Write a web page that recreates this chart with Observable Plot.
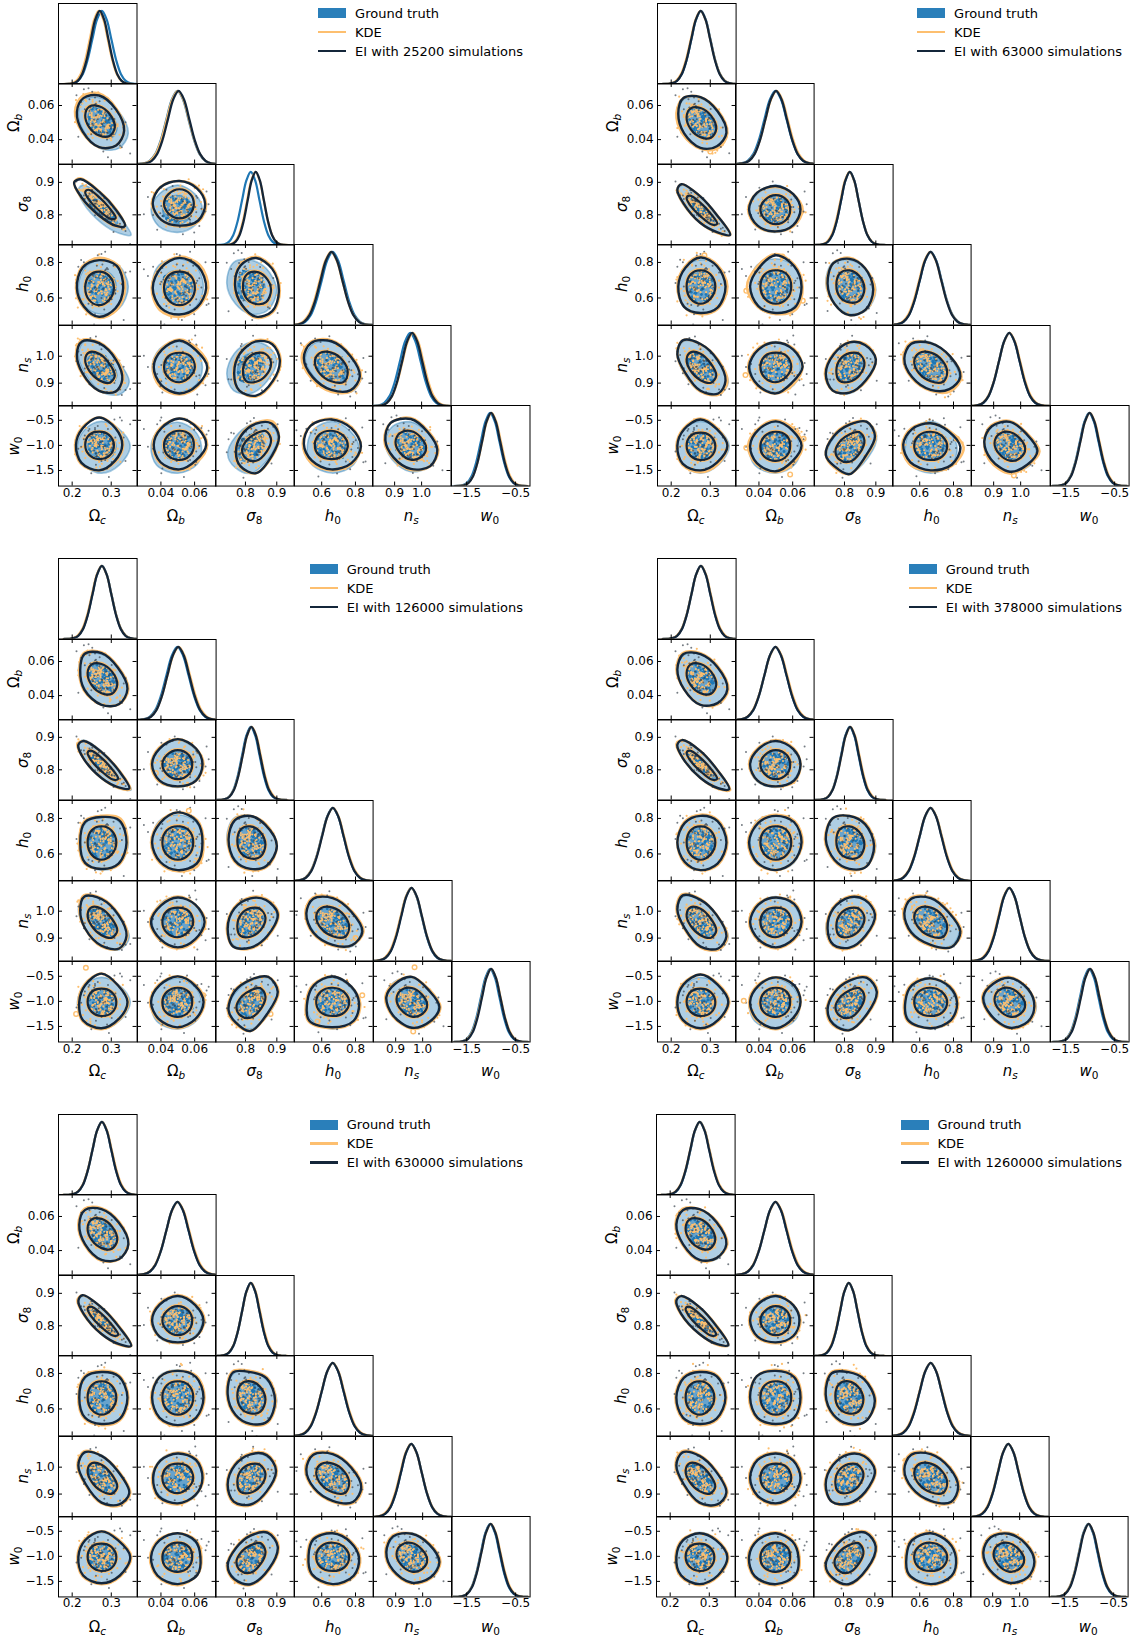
<!DOCTYPE html>
<html><head><meta charset="utf-8">
<script src="https://cdn.jsdelivr.net/npm/d3@7"></script>
<script src="https://cdn.jsdelivr.net/npm/@observablehq/plot@0.6"></script>
<style>
html,body{margin:0;padding:0;background:#fff}
#page{position:relative;width:1136px;height:1640px;overflow:hidden;font-family:"DejaVu Sans",sans-serif;color:#000}
.lab{position:absolute;font-size:15px;white-space:nowrap;line-height:1}
.lab sub{font-size:10.5px;vertical-align:-3px;line-height:0}
.leg{position:absolute;display:grid;grid-template-columns:28px auto;column-gap:9px;grid-auto-rows:19px;align-items:center;font-size:13px;white-space:nowrap}
</style></head><body><div id="page"></div>
<script>
// ---------- chart values ----------
const simulations=[25200,63000,126000,378000,630000,1260000];
const limsX=[[.165,.366],[.0261,.0727],[.7044,.955],[.439,.904],[.818,1.109],[-1.81,-.205]];
const limsY=[[.165,.366],[.0257,.0729],[.707,.955],[.448,.901],[.815,1.114],[-1.81,-.205]];
const ticksX=[[.2,.3],[.04,.06],[.8,.9],[.6,.8],[.9,1],[-1.5,-.5]];
const ticksY=[[.2,.3],[.04,.06],[.8,.9],[.6,.8],[.9,1],[-1.5,-1,-.5]];
const tickDigits=[1,2,1,1,1,1];
// marginal density profile read at z = -4 ... 4 in steps of 0.5
const profile=[0,.002,.011,.044,.135,.325,.607,.882,1,.882,.607,.325,.135,.044,.011,.002,0];
const profileZ=[-4,-3.5,-3,-2.5,-2,-1.5,-1,-.5,0,.5,1,1.5,2,2.5,3,3.5,4];
const truthMean=[.276,.0498,.817,.665,.958,-1.02];
const truthWidth=[.0245,.0066,.028,.065,.0385,.19];
const eiMean=[[.2705,.0505,.833,.658,.965,-1],[.2755,.0502,.817,.664,.958,-1.01],[.276,.0503,.819,.666,.959,-1],[.276,.0498,.818,.664,.958,-1],[.276,.0498,.817,.665,.958,-1.01],[.2755,.0498,.817,.665,.958,-1.01]];
const eiWidth=[[.0225,.0064,.026,.065,.0375,.185],[.0243,.0064,.028,.064,.0385,.19],[.0242,.0065,.028,.064,.0385,.188],[.0243,.0066,.028,.065,.0385,.19],[.0244,.0066,.028,.065,.0385,.19],[.0245,.0066,.028,.065,.0385,.19]];
const kdeMean=[[.268,.05,.832,.655,.968,-.99],[.275,.0505,.816,.662,.959,-1.005],[.2755,.0506,.82,.667,.958,-1],[.2765,.05,.819,.665,.957,-.998],[.2765,.05,.818,.666,.957,-1.005],[.276,.05,.817,.665,.958,-1.01]];
// contour rings, radii in tenths of a width, read every 45 degrees
const ringMean=[[.269,.051,.834,.657,.96,-.99],[.275,.05,.816,.665,.96,-1.01],[.275,.05,.816,.665,.96,-1.01],[.275,.05,.816,.665,.96,-1.01],[.275,.05,.816,.665,.96,-1.01],[.275,.05,.816,.665,.96,-1.01]];
const truthRingMean=[.275,.05,.816,.665,.96,-1.01];
const ringWidth=[.0237,.0061,.028,.065,.0378,.188];
const pairs=[[0,1],[0,2],[1,2],[0,3],[1,3],[2,3],[0,4],[1,4],[2,4],[3,4],[0,5],[1,5],[2,5],[3,5],[4,5]];
const pairRho=[-.35,-.87,0,0,0,-.1,-.5,0,.25,-.35,0,0,.35,-.05,-.2];
const truthOuter=[[29,26,25,25,25,25,27,27],[32,27,30,28,25,28,30,27],[24,24,27,25,26,26,25,24],[29,26,23,24,25,25,24,27],[25,25,24,26,25,25,24,25],[30,25,23,27,27,24,24,27],[30,25,26,26,25,25,28,28],[24,24,25,25,25,25,25,25],[30,25,25,26,27,27,27,27],[26,24,26,25,25,24,25,26],[31,26,26,25,26,28,29,28],[23,23,25,25,26,29,29,27],[31,28,24,24,26,25,31,30],[24,23,26,24,23,28,29,27],[26,24,26,25,25,26,28,26]];
const ringInner=[[17,16,15,15,15,15,15,16],[18,15,15,16,15,15,15,17],[14,15,16,15,15,15,16,15],[16,15,14,15,15,15,15,15],[15,15,14,15,15,15,15,15],[17,15,14,15,15,15,14,16],[17,15,15,15,15,15,15,16],[15,15,14,15,15,15,15,14],[17,15,14,15,15,16,15,16],[15,15,15,15,15,15,15,16],[16,15,14,15,15,15,15,16],[14,15,15,15,15,16,16,15],[17,16,13,14,16,16,18,17],[15,15,15,15,15,16,15,15],[15,14,15,15,15,15,16,15]];
const eiOuter1=[[27,26,26,24,24,25,27,26],[28,26,27,28,27,27,26,25],[25,24,25,26,26,25,24,26],[26,27,24,25,24,23,25,25],[26,26,26,25,26,25,23,24],[26,26,26,25,24,23,25,26],[25,26,27,26,24,25,27,25],[27,23,26,24,25,25,26,25],[27,26,26,26,25,27,29,27],[26,25,27,26,25,24,24,25],[25,25,29,25,25,27,27,24],[26,25,28,25,25,26,26,23],[26,25,24,24,23,25,32,26],[27,26,27,27,25,25,26,26],[26,24,28,28,25,24,26,27]];
const eiOuter2=[[28,26,26,26,24,25,26,25],[32,26,29,29,25,26,30,26],[24,24,26,26,26,25,24,24],[27,25,25,23,24,25,23,26],[25,25,27,23,25,24,23,26],[27,25,24,26,25,24,25,26],[27,26,26,27,25,23,27,27],[26,24,24,24,26,25,26,22],[30,25,25,25,27,27,26,26],[27,25,25,25,24,24,24,24],[29,25,28,25,25,27,26,25],[25,23,26,24,25,26,27,23],[29,28,24,25,27,24,32,26],[27,23,24,24,25,26,26,27],[27,23,26,25,25,26,28,24]];
const eiOuter3=[[28,25,26,26,23,26,27,27],[30,27,28,27,25,28,30,26],[24,25,28,25,25,25,24,25],[27,27,22,25,23,25,23,26],[24,26,26,24,25,24,24,26],[30,24,23,25,25,25,23,26],[27,26,26,26,23,25,27,27],[26,24,24,23,26,24,25,24],[31,25,24,26,26,28,26,27],[27,24,25,25,24,25,24,25],[28,25,30,25,24,28,28,26],[25,24,27,25,26,26,27,25],[31,29,25,26,25,24,33,28],[24,24,27,24,23,30,27,27],[27,23,27,23,25,26,28,25]];
const eiOuter4=[[29,26,25,26,25,25,27,26],[31,27,30,28,25,27,30,27],[24,24,26,24,25,25,24,25],[28,26,23,24,25,24,24,26],[25,25,23,24,26,25,24,24],[28,25,23,27,27,24,23,27],[28,25,25,27,25,24,28,27],[25,25,24,24,25,24,25,24],[29,25,25,26,25,26,26,26],[27,23,25,25,24,25,24,27],[30,26,29,26,25,27,28,27],[24,25,26,24,25,26,28,24],[31,28,24,24,25,26,32,29],[24,24,25,24,23,29,28,26],[24,25,26,23,26,26,28,25]];
const eiOuter5=[[29,26,25,25,24,25,27,27],[32,27,29,29,25,27,30,27],[25,24,27,25,25,25,24,25],[28,26,22,25,24,25,23,27],[25,25,23,25,25,25,24,25],[28,26,22,28,26,24,23,27],[30,25,25,26,25,24,28,27],[24,25,24,24,24,26,25,24],[29,26,24,25,26,27,27,26],[26,24,25,25,24,24,24,26],[31,25,27,25,25,28,28,28],[22,24,25,25,26,28,29,27],[31,28,24,23,26,26,31,30],[24,23,25,25,22,27,29,27],[27,24,25,26,25,26,28,26]];
const eiOuter6=[[29,26,25,25,25,25,27,26],[31,27,30,28,25,28,30,27],[23,24,27,25,25,25,24,24],[28,26,22,24,25,25,23,26],[24,25,23,26,25,25,23,25],[30,25,22,27,26,24,23,27],[29,25,25,26,25,24,28,27],[24,24,24,25,25,25,25,24],[30,25,24,25,26,27,26,27],[25,24,25,25,24,24,24,26],[30,25,25,25,25,28,29,28],[22,23,25,25,26,29,29,27],[31,28,24,23,26,25,31,30],[23,23,25,24,22,28,29,27],[25,24,25,25,25,26,28,26]];
const eiOuter=[eiOuter1,eiOuter2,eiOuter3,eiOuter4,eiOuter5,eiOuter6];
// KDE ring minus EI ring
const kdeDiff1=[[0,1,2,2,2,1,0,0],[0,1,1,1,0,1,1,1],[1,1,0,0,1,0,1,1],[2,1,2,1,1,1,1,2],[2,2,1,1,1,2,2,1],[1,1,1,1,1,1,1,1],[1,2,1,1,1,1,0,0],[1,2,1,1,1,2,1,1],[1,1,1,1,1,0,1,1],[1,1,1,1,2,2,2,1],[1,1,0,1,1,1,0,1],[1,1,0,1,1,1,1,2],[0,2,1,1,1,1,0,1],[0,1,1,0,1,2,1,1],[1,1,1,0,1,1,1,0]];
const kdeDiff2=[[1,1,0,0,2,2,1,2],[0,0,0,0,0,1,0,1],[2,0,-1,0,1,1,0,1],[2,1,1,1,1,0,1,1],[1,1,1,2,3,1,1,2],[2,0,1,0,1,0,0,0],[2,1,0,0,0,1,1,1],[0,1,0,1,1,1,0,2],[0,1,0,1,1,0,0,1],[1,0,0,1,1,1,1,2],[0,1,1,1,1,1,2,2],[1,2,1,1,2,1,1,2],[1,0,1,1,0,1,0,1],[3,1,0,1,1,2,1,1],[2,1,1,1,0,2,2,1]];
const kdeDiff3=[[1,1,1,1,1,1,0,0],[1,1,0,0,1,0,0,1],[1,0,0,1,1,1,0,0],[1,2,1,1,1,1,0,1],[1,1,0,1,1,1,1,2],[0,1,0,1,1,1,1,1],[1,1,1,1,1,0,1,0],[1,0,1,1,1,1,1,1],[1,1,1,1,1,0,1,1],[1,1,1,1,1,1,1,0],[1,0,0,1,1,1,1,1],[1,1,0,1,1,1,1,1],[1,0,0,1,1,1,0,1],[1,0,0,1,1,1,1,1],[1,1,0,1,1,1,1,1]];
const kdeDiff4=[[1,1,1,1,1,0,0,1],[1,0,0,0,1,0,0,1],[0,1,1,1,1,0,0,1],[1,1,1,1,0,1,0,1],[1,1,1,1,1,1,0,0],[1,1,0,0,1,1,1,0],[1,0,1,1,1,1,1,1],[1,1,0,1,1,1,1,1],[1,1,1,1,1,1,1,1],[1,1,1,1,1,1,1,0],[1,1,0,1,1,1,1,1],[0,0,0,1,1,1,1,1],[1,1,1,1,1,1,0,1],[1,1,0,1,1,1,0,1],[1,0,1,1,1,1,1,1]];
const kdeDiff5=[[0,1,1,1,1,1,1,0],[0,1,0,0,1,1,0,1],[1,1,1,1,1,0,1,0],[1,1,1,1,1,1,1,1],[1,1,0,0,1,1,1,1],[1,1,1,1,1,1,1,1],[1,1,0,1,1,1,1,1],[1,1,1,0,1,1,1,0],[1,1,1,1,1,1,1,1],[1,1,1,1,1,1,1,1],[1,1,0,1,1,1,1,1],[1,1,0,1,1,1,1,0],[1,1,1,1,1,1,1,1],[1,1,1,1,1,1,1,1],[1,1,0,1,1,1,1,1]];
const kdeDiff6=[[1,1,0,1,1,1,1,0],[0,1,0,0,1,1,0,1],[1,0,1,1,1,1,1,1],[1,1,1,1,1,1,1,1],[1,1,1,0,1,1,1,1],[1,1,1,1,1,1,1,0],[1,1,1,1,1,1,1,1],[1,1,1,1,1,1,1,1],[1,1,1,1,1,0,1,1],[1,1,1,1,1,1,1,1],[1,1,0,1,1,1,1,1],[1,1,1,1,1,1,1,1],[1,1,1,1,1,1,1,1],[1,1,1,1,1,1,1,1],[1,1,1,1,1,1,1,1]];
const kdeDiff=[kdeDiff1,kdeDiff2,kdeDiff3,kdeDiff4,kdeDiff5,kdeDiff6];
// small separate KDE contours: corner, pair, x, y
const kdeIslands=[[1,3,.285,.84],[1,4,.0539,.834],[1,4,.0325,.64],[1,4,.066,.585],[1,0,.3,.033],[1,13,.82,-.87],[1,14,.975,-1.6],[1,7,.032,.93],[1,11,.0665,-.87],[1,11,.0325,-1.05],[1,11,.0585,-1.58],
[2,4,.0565,.843],[2,10,.235,-.33],[2,14,.97,-.32],[2,14,.965,-1.6],[2,13,.84,-.88],[2,13,.575,-1.4],[2,2,.037,.79],[2,4,.0625,.565],[2,12,.88,-1.25],[2,10,.21,-1.25],[2,9,.8,.9],[2,11,.065,-.88],[3,11,.031,-.99]];
// scatter values in tenths of a width
const truthZ=[3,-8,11,-2,6,-12,1,9,-5,13,-7,2,-10,5,-1,8,-13,4,10,-3,-6,12,0,-9,7,-11,3,-4,14,-1,6,-8,10,-12,2,9,-6,5,-2,11,-10,1,8,-7,13,-3,4,-14,7,-1,12,-5,0,10,-9,3,-11,6,-4,9,-7,2,11,-13,5,-2,8,-6,1,-10];
const kdeZ=[4,-11,17,-3,9,-21,2,13,-7,24,-15,6,-1,19,-9,11,-25,3,-14,8,22,-5,-18,1,15,-2,-10,27,5,-13,10,-20,-4,16,7,-8,23,-16,0,12,-26,6,18,-6,-12,3,20,-1,-17,9,-23,14,-3,25,-9,2,-14,11,5,-19,8,-5,28,-11,1,16,-7,-22,13,4,-15,21,-2,-10,6,18,-24,10,-4,15,-12,3,26,-8,-1,7,-18,12,-6,19,-3,-13,9,-27,2,14,-9,23,-16,5,0,-11,17,8,-20,4,-2,29,-7,11,-14,1,20,-5,-25,6,13,-10,3,-17,16,-1,24,-8,10,-4,-21,7,-12];
const eiZ=[6,-13,2,19,-8,-24,11,-1,15,-5,31,-17,4,9,-11,23,-2,-15,7,-29,13,0,-6,18,-10,3,26,-20,-4,12,8,-16,1,21,-7,-33,14,5,-12,17,-3,28,-9,10,-22,2,-14,6,24,-1,-18,16,-5,9,-27,11,3,-11,20,-6,-2,13,-19,30,-8,4,-13,7,-25,15,0,18,-10,-3,22,-16,5,12,-7,27];
// ---------- layout ----------
const cornerX=[58,656.6,58.1,656.6,58.1,656];
const cornerY=[2.5,2.5,558.4,558.4,1114,1114];
const panelW=[78.5,78.6,78.6,78.6,78.6,78.6];
const panelH=[80.55,80.5,80.5,80.5,80.45,80.45];
const legendRight=[523,1122,523,1122,523,1122];
const yLabelX=[0,-44,-35,-35,-35,-44];
const BLUE="#1f77b4",ORANGE="#fdbf6f",DARK="#14263a",GRAY="#3c4650";
const page=document.getElementById("page");
function project(mu,sig,i,j,rho,zi,zj){return {x:mu[i]+sig[i]*zi,y:mu[j]+sig[j]*(rho*zi+Math.sqrt(1-rho*rho)*zj)};}
function ringPoints(ring,mu,i,j,rho){return ring.map((r,k)=>project(mu,ringWidth,i,j,rho,r/10*Math.cos(k*Math.PI/4),r/10*Math.sin(k*Math.PI/4)));}
function samplePoints(list,off,mu,i,j,rho,keep){const n=list.length,out=[];list.forEach((_,k)=>{const a=list[(k+i*off)%n]/10,b=list[(k+j*off)%n]/10;if(keep(Math.hypot(a,b),k))out.push(project(mu,ringWidth,i,j,rho,a,b));});return out;}
function ringMark(pts,o){return Plot.line(pts,{x:"x",y:"y",curve:"catmull-rom-closed",clip:true,...o});}
function curve(mean,width){return profile.map((v,k)=>({x:mean+width*profileZ[k],y:v}));}
function fmt(i){return d3.format("."+tickDigits[i]+"f");}
function addPanel(c,row,col){
  const w=panelW[c],h=panelH[c],left=cornerX[c]+col*w,top=cornerY[c]+row*h,diag=row===col;
  const marks=[];
  if(diag){
    const line=(m,s,st,sw)=>Plot.line(curve(m,s),{x:"x",y:"y",curve:"catmull-rom",stroke:st,strokeWidth:sw,clip:true});
    marks.push(line(truthMean[col],truthWidth[col],BLUE,2.2),line(kdeMean[c][col],eiWidth[c][col]*1.03,ORANGE,2.2),line(eiMean[c][col],eiWidth[c][col],DARK,2.3));
  }else{
    const p=pairs.findIndex(d=>d[0]===col&&d[1]===row),rho=pairRho[p],mu=ringMean[c];
    const tOut=ringPoints(truthOuter[p],truthRingMean,col,row,rho),tIn=ringPoints(ringInner[p],truthRingMean,col,row,rho);
    marks.push(ringMark(tOut,{fill:BLUE,fillOpacity:.36,stroke:BLUE,strokeOpacity:.4,strokeWidth:1.6}));
    marks.push(ringMark(tIn,{fill:BLUE,fillOpacity:.5,stroke:BLUE,strokeOpacity:.4,strokeWidth:1.2}));
    marks.push(Plot.dot(samplePoints(truthZ,13,truthRingMean,col,row,rho,r=>r<1.6),{x:"x",y:"y",r:1.4,fill:BLUE,clip:true}));
    const kOut=eiOuter[c][p].map((r,k)=>r+kdeDiff[c][p][k]),kIn=ringInner[p].map(r=>r+1);
    marks.push(ringMark(ringPoints(kOut,mu,col,row,rho),{stroke:ORANGE,strokeWidth:2.6}));
    marks.push(ringMark(ringPoints(kIn,mu,col,row,rho),{stroke:ORANGE,strokeWidth:2.2}));
    marks.push(Plot.dot(samplePoints(kdeZ,23+2*c,mu,col,row,rho,(r,k)=>r<1.5||(r<3&&k%2==0)),{x:"x",y:"y",r:1.1,fill:ORANGE,clip:true}));
    marks.push(Plot.dot(samplePoints(kdeZ,29+2*c,mu,col,row,rho,r=>r<1.5),{x:"x",y:"y",r:1,fill:ORANGE,clip:true}));
    marks.push(Plot.dot(samplePoints(eiZ,17,truthRingMean,col,row,rho,(r,k)=>r<1.6||k%2==0),{x:"x",y:"y",r:1,fill:GRAY,fillOpacity:.7,clip:true}));
    const isl=kdeIslands.filter(d=>d[0]===c&&d[1]===p).map(d=>({x:d[2],y:d[3]}));
    if(isl.length)marks.push(Plot.dot(isl,{x:"x",y:"y",r:2.3,fill:"none",stroke:ORANGE,strokeWidth:1.4,clip:true}));
    marks.push(ringMark(ringPoints(eiOuter[c][p],mu,col,row,rho),{stroke:DARK,strokeWidth:2.4}));
    marks.push(ringMark(ringPoints(ringInner[p],mu,col,row,rho),{stroke:DARK,strokeWidth:2.2}));
    marks.push(Plot.tickX(ticksX[col],{x:d=>d,insetBottom:h-4,stroke:"#000"}));
    marks.push(Plot.tickY(ticksY[row],{y:d=>d,insetRight:w-4,stroke:"#000"}));
    marks.push(Plot.tickY(ticksY[row],{y:d=>d,insetLeft:w-4,stroke:"#000"}));
  }
  marks.push(Plot.tickX(ticksX[col],{x:d=>d,insetTop:h-4,stroke:"#000"}));
  marks.push(Plot.frame({stroke:"#000",strokeWidth:1}));
  if(row===5)marks.push(Plot.axisX(ticksX[col],{anchor:"bottom",tickSize:0,tickPadding:2,tickFormat:fmt(col),fontSize:12,label:null,fill:"#000"}));
  if(col===0&&!diag)marks.push(Plot.axisY(ticksY[row],{anchor:"left",tickSize:0,tickPadding:4,tickFormat:fmt(row),fontSize:12,label:null,fill:"#000"}));
  const svg=Plot.plot({width:w,height:h,margin:0,
    x:{domain:limsX[col],axis:null},
    y:{domain:diag?[0,1.1]:limsY[row],axis:null},
    style:{position:"absolute",left:left+"px",top:top+"px",overflow:"visible",background:"transparent",fontFamily:"'DejaVu Sans'",maxWidth:"none"},
    marks});
  page.appendChild(svg);
}
const labels=[['<span>Ω</span><sub><i>c</i></sub>'],['<span>Ω</span><sub><i>b</i></sub>'],['<i>σ</i><sub>8</sub>'],['<i>h</i><sub>0</sub>'],['<i>n</i><sub><i>s</i></sub>'],['<i>w</i><sub>0</sub>']];
function addLabels(c){
  const w=panelW[c],h=panelH[c];
  for(let i=0;i<6;i++){
    const d=document.createElement("div");d.className="lab";d.innerHTML=labels[i][0];
    d.style.left=(cornerX[c]+(i+.5)*w)+"px";d.style.top=(cornerY[c]+6*h+23)+"px";d.style.transform="translateX(-50%)";
    page.appendChild(d);
    if(i>0){
      const e=document.createElement("div");e.className="lab";e.innerHTML=labels[i][0];
      e.style.left=(cornerX[c]+yLabelX[i])+"px";e.style.top=(cornerY[c]+(i+.5)*h)+"px";
      e.style.transform="translate(-50%,-50%) rotate(-90deg)";
      page.appendChild(e);
    }
  }
}
function addLegend(c){
  const g=document.createElement("div");g.className="leg";
  g.style.right=(1136-legendRight[c])+"px";g.style.top=(cornerY[c]+1.2)+"px";
  const rows=[["Ground truth",`height:10px;background:#2a7fba`],["KDE",`height:2.4px;background:${ORANGE}`],["EI with "+simulations[c]+" simulations",`height:2.4px;background:${DARK}`]];
  for(const [t,s] of rows){
    const a=document.createElement("div");a.style.cssText=s;
    const b=document.createElement("div");b.textContent=t;
    g.append(a,b);
  }
  page.appendChild(g);
}
for(let c=0;c<6;c++){
  for(let r=0;r<6;r++)for(let k=0;k<=r;k++)addPanel(c,r,k);
  addLabels(c);addLegend(c);
}
</script></body></html>
